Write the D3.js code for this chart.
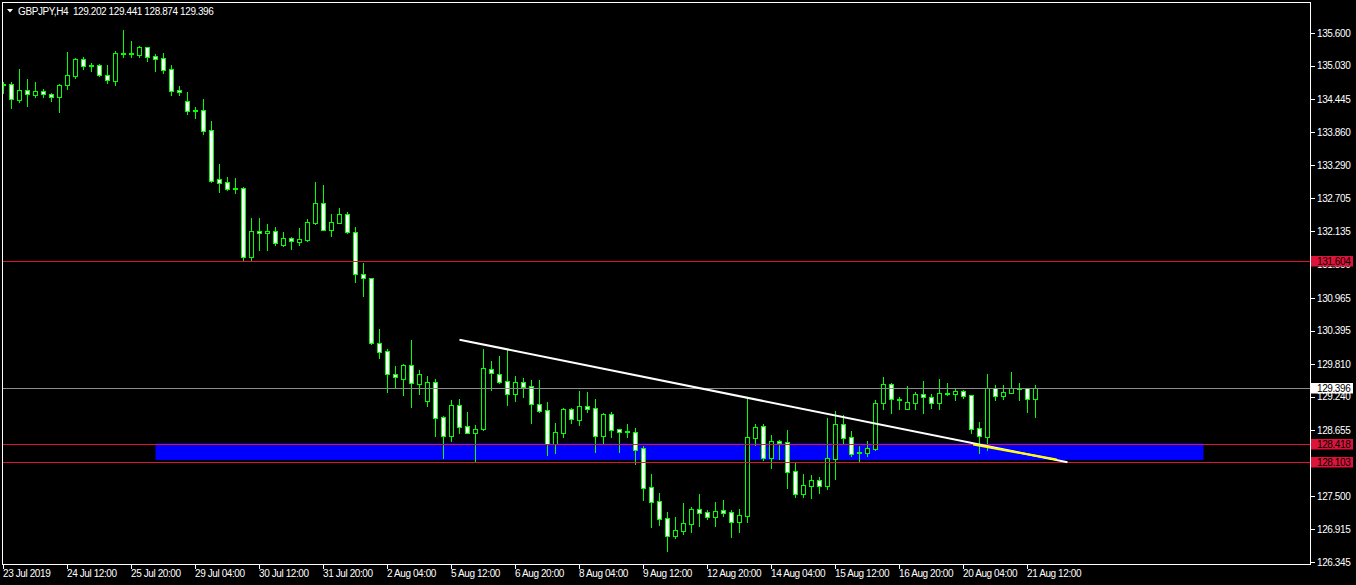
<!DOCTYPE html>
<html><head><meta charset="utf-8">
<script src="https://cdn.jsdelivr.net/npm/d3@7"></script>
<style>
html,body{margin:0;padding:0;background:#000;}
svg{display:block;}
text{font-family:"Liberation Sans",Arial,sans-serif;font-size:10px;letter-spacing:-0.4px;fill:#fff;}
</style></head><body>
<svg id="c" width="1356" height="585"></svg>
<script>
const opens=[134.705,134.702,134.433,134.602,134.520,134.580,134.527,134.485,134.685,134.853,
135.140,135.040,135.035,134.860,134.765,135.247,135.250,135.220,135.355,135.197,
135.162,134.970,134.602,134.410,134.260,134.253,133.903,133.040,132.993,132.885,
132.883,131.676,132.130,132.095,132.130,131.896,132.008,131.949,131.978,132.281,
132.620,132.158,132.281,132.428,132.113,131.378,131.308,130.171,130.031,129.629,
129.552,129.791,129.464,129.156,129.489,128.876,128.555,129.086,128.719,128.607,
128.666,129.716,129.634,129.506,129.289,129.494,129.424,129.104,128.999,128.404,
128.607,129.016,128.834,129.069,129.034,128.555,128.929,128.666,128.636,128.614,
128.334,127.652,127.407,127.115,126.805,126.892,127.015,127.267,127.215,127.137,
127.250,127.215,127.050,127.155,128.520,128.719,128.170,128.462,128.439,127.932,
127.540,127.680,127.774,127.680,128.152,128.759,128.527,128.264,128.257,128.322,
129.121,129.454,129.191,129.027,129.132,129.279,129.226,129.132,129.302,129.289,
129.331,129.261,128.684,128.537,129.384,129.254,129.307,129.389,129.384,129.202];
const highs=[134.742,134.742,134.970,134.795,134.742,134.615,134.545,134.707,135.267,135.162,
135.175,135.075,135.052,135.040,135.285,135.652,135.460,135.372,135.362,135.232,
135.255,135.040,134.672,134.567,134.300,134.445,134.060,133.308,133.080,133.063,
132.905,132.363,132.363,132.258,132.206,132.118,132.026,132.183,132.340,132.993,
132.940,132.433,132.538,132.463,132.206,131.576,131.315,130.421,130.071,129.774,
129.809,130.229,129.704,129.599,129.546,128.899,129.179,129.197,128.969,128.736,
130.071,129.861,129.949,130.059,129.599,129.564,129.529,129.529,129.144,128.777,
129.039,129.039,129.337,129.319,129.197,128.946,128.969,128.673,128.759,128.689,
128.374,127.884,127.552,127.220,127.132,127.372,127.307,127.535,127.250,127.389,
127.424,127.250,127.272,129.226,128.759,128.759,128.567,128.479,128.654,128.094,
127.879,127.862,127.827,128.859,128.987,128.911,128.637,128.374,128.462,129.179,
129.581,129.476,129.232,129.424,129.319,129.511,129.284,129.546,129.476,129.371,
129.349,129.265,128.794,129.634,129.436,129.436,129.669,129.476,129.394,129.441];
const lows=[134.555,134.293,134.398,134.328,134.485,134.485,134.415,134.223,134.625,134.818,
134.975,134.940,134.853,134.730,134.695,135.185,135.185,135.185,135.110,134.935,
134.905,134.515,134.515,134.188,134.118,133.838,132.993,132.818,132.848,132.806,
131.616,131.616,131.809,131.809,131.891,131.878,131.826,131.891,131.961,132.258,
132.153,132.048,132.276,132.101,131.249,131.004,130.154,129.919,129.324,129.406,
129.272,129.062,129.284,129.074,128.549,128.170,128.462,128.607,128.600,128.112,
128.660,129.359,129.476,129.097,129.167,129.237,128.782,128.974,128.222,128.257,
128.537,128.782,128.747,128.969,128.269,128.422,128.537,128.269,128.537,128.065,
127.430,126.962,126.992,126.543,126.770,126.840,126.870,126.980,127.097,126.975,
127.155,126.782,126.870,127.045,128.392,128.130,127.995,128.147,127.645,127.487,
127.482,127.470,127.557,127.627,127.802,128.432,128.199,128.112,128.205,128.299,
129.021,128.952,129.021,129.021,129.021,128.952,129.039,129.021,129.267,129.179,
129.219,128.596,128.257,128.310,129.179,129.197,129.300,129.179,128.969,128.874];
const closes=[134.695,134.440,134.602,134.527,134.580,134.527,134.475,134.685,134.860,135.140,
135.017,135.014,134.860,134.772,135.250,135.243,135.232,135.355,135.185,135.150,
134.958,134.590,134.562,134.240,134.256,133.890,133.016,132.981,132.876,132.881,
131.676,132.130,132.095,132.130,131.921,132.008,131.956,131.990,132.288,132.620,
132.158,132.288,132.428,132.113,131.378,131.308,130.182,130.024,129.629,129.576,
129.791,129.482,129.634,129.489,128.869,128.555,129.086,128.712,128.607,128.666,
129.734,129.646,129.499,129.289,129.489,129.412,129.104,128.992,128.409,128.614,
129.016,128.841,129.069,129.027,128.555,128.929,128.659,128.624,128.614,128.310,
127.645,127.400,127.102,126.805,126.905,127.022,127.267,127.208,127.137,127.232,
127.208,127.050,127.162,128.527,128.702,128.170,128.457,128.427,127.925,127.540,
127.687,127.774,127.680,128.159,128.759,128.520,128.240,128.252,128.334,129.121,
129.454,129.191,129.182,129.139,129.284,129.226,129.132,129.296,129.291,129.331,
129.254,128.677,128.555,129.384,129.254,129.314,129.384,129.379,129.202,129.396];

const timeLabels=["23 Jul 2019","24 Jul 12:00","25 Jul 20:00","29 Jul 04:00","30 Jul 12:00","31 Jul 20:00","2 Aug 04:00","5 Aug 12:00","6 Aug 20:00","8 Aug 04:00","9 Aug 12:00","12 Aug 20:00","14 Aug 04:00","15 Aug 12:00","16 Aug 20:00","20 Aug 04:00","21 Aug 12:00"];
const timeLabelBars=[0,8,16,24,32,40,48,56,64,72,80,88,96,104,112,120,128];
const priceTicks=[135.600,135.030,134.445,133.860,133.290,132.705,132.135,131.550,130.965,130.395,129.810,129.240,128.655,128.070,127.500,126.915,126.345];
const redLines=[131.604,128.418,128.103];
const bidPrice=129.396;
const zone={top:128.418,bottom:128.130,start:19,end:150};
const trendWhite=[{bar:57,price:130.234},{bar:133,price:128.089}];
const trendYellow=[{bar:121.2,price:128.400},{bar:131.65,price:128.138}];
const title="GBPJPY,H4  129.202 129.441 128.874 129.396";

const svg=d3.select("#c");
const W=1356,H=585, plotR=1310.5, plotB=564.5;
const x=d3.scaleLinear().domain([0,1]).range([3.5,11.5]);
const y=d3.scaleLinear().domain([126.345,135.6]).range([562,33]);
const GREEN="#00ff00", CRIMSON="#dc143c";

svg.append("rect").attr("width",W).attr("height",H).attr("fill","#000");

const plot=svg.append("g");
svg.append("clipPath").attr("id","pc").append("rect").attr("x",2).attr("y",2).attr("width",plotR-2).attr("height",plotB-2);
plot.attr("clip-path","url(#pc)");

// zone rectangle
plot.append("rect").attr("x",x(zone.start)).attr("width",x(zone.end)-x(zone.start))
  .attr("y",y(zone.top)).attr("height",y(zone.bottom)-y(zone.top)).attr("fill","#0000ff");

// candles
const data=opens.map((o,i)=>({i,o,h:highs[i],l:lows[i],c:closes[i]}));
const cg=plot.append("g").attr("shape-rendering","crispEdges");
cg.selectAll("line.w").data(data).join("line").attr("class","w")
  .attr("x1",d=>x(d.i)).attr("x2",d=>x(d.i))
  .attr("y1",d=>Math.round(y(d.h))).attr("y2",d=>Math.round(y(d.l))+1)
  .attr("stroke",GREEN).attr("stroke-width",1);
cg.selectAll("rect.b").data(data).join("rect").attr("class","b")
  .attr("x",d=>x(d.i)-2).attr("width",4)
  .attr("y",d=>Math.round(y(Math.max(d.o,d.c)))+0.5)
  .attr("height",d=>Math.max(1,Math.round(y(Math.min(d.o,d.c)))-Math.round(y(Math.max(d.o,d.c)))))
  .attr("fill",d=>d.c>=d.o?"#000":"#fff")
  .attr("stroke",GREEN).attr("stroke-width",1);

// horizontal lines
plot.selectAll("line.r").data(redLines).join("line").attr("class","r")
  .attr("x1",2).attr("x2",plotR).attr("y1",d=>Math.round(y(d))+0.5).attr("y2",d=>Math.round(y(d))+0.5)
  .attr("stroke",CRIMSON).attr("stroke-width",1);
plot.append("line").attr("x1",2).attr("x2",plotR)
  .attr("y1",Math.round(y(bidPrice))+0.5).attr("y2",Math.round(y(bidPrice))+0.5)
  .attr("stroke","#8c8c8c").attr("stroke-width",1);

// trend lines
const ln=d3.line().x(d=>x(d.bar)).y(d=>y(d.price));
plot.append("path").attr("d",ln(trendWhite)).attr("stroke","#fff").attr("stroke-width",2).attr("fill","none");
plot.append("path").attr("d",ln(trendYellow)).attr("stroke","#ffff00").attr("stroke-width",2.2).attr("fill","none");

// frame
const fr=svg.append("g").attr("shape-rendering","crispEdges").attr("stroke","#fff").attr("stroke-width",1);
fr.append("line").attr("x1",2.5).attr("x2",2.5).attr("y1",2).attr("y2",plotB+0.5);
fr.append("line").attr("x1",2).attr("x2",plotR+0.5).attr("y1",2.5).attr("y2",2.5);
fr.append("line").attr("x1",plotR).attr("x2",plotR).attr("y1",2).attr("y2",plotB+0.5);
fr.append("line").attr("x1",2).attr("x2",plotR+0.5).attr("y1",plotB).attr("y2",plotB);

// price axis
const pa=svg.append("g");
pa.selectAll("line").data(priceTicks).join("line")
  .attr("x1",plotR).attr("x2",plotR+4).attr("y1",d=>Math.round(y(d))+0.5).attr("y2",d=>Math.round(y(d))+0.5)
  .attr("stroke","#fff").attr("shape-rendering","crispEdges");
pa.selectAll("text").data(priceTicks).join("text")
  .attr("x",1317).attr("y",d=>y(d)+3.6).text(d=>d.toFixed(3));

// price tags for the lines
const rl=svg.append("g");
redLines.forEach(p=>{
  const yy=Math.round(y(p));
  rl.append("rect").attr("x",1311).attr("y",yy-5).attr("width",42).attr("height",10.5).attr("fill",CRIMSON);
  rl.append("text").attr("x",1317).attr("y",yy+4).style("fill","#000").text(p.toFixed(3));
});
{
  const yy=Math.round(y(bidPrice));
  rl.append("rect").attr("x",1311).attr("y",yy-5).attr("width",42).attr("height",10.5).attr("fill","#fff");
  rl.append("text").attr("x",1317).attr("y",yy+4).style("fill","#000").text(bidPrice.toFixed(3));
}

// time axis
const ta=svg.append("g");
ta.selectAll("line").data(timeLabelBars).join("line")
  .attr("x1",d=>x(d)).attr("x2",d=>x(d)).attr("y1",plotB).attr("y2",plotB+4)
  .attr("stroke","#fff").attr("shape-rendering","crispEdges");
ta.selectAll("text").data(timeLabels).join("text")
  .attr("x",(d,k)=>x(timeLabelBars[k])-0.5).attr("y",577).text(d=>d);

// title
svg.append("path").attr("d","M7,9 L13,9 L10,12.5 Z").attr("fill","#fff");
svg.append("text").attr("x",18).attr("y",14.5).attr("xml:space","preserve").style("white-space","pre").text(title);
</script>
</body></html>
